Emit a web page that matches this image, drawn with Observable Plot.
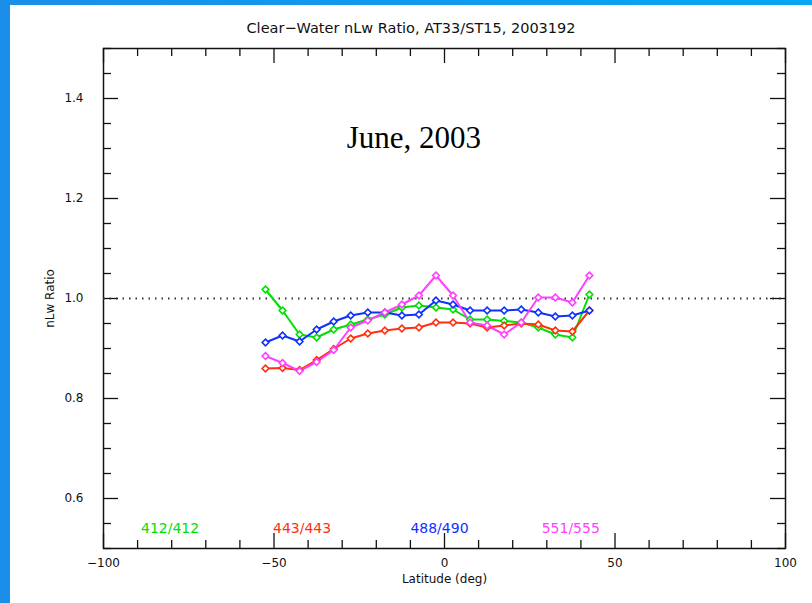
<!DOCTYPE html>
<html><head><meta charset="utf-8">
<script src="https://cdn.jsdelivr.net/npm/d3@7"></script>
<script src="https://cdn.jsdelivr.net/npm/@observablehq/plot@0.6"></script>
<style>
body{margin:0;width:812px;height:603px;background:linear-gradient(90deg,#1a8ee8,#05a6f5);overflow:hidden;font-family:"DejaVu Sans",sans-serif}
#box{position:absolute;left:10px;top:5px;width:802px;height:598px;background:#fff}
#title{position:absolute;left:0;width:802px;top:15px;text-align:center;font-size:14.5px;color:#111}
#chart{position:absolute;left:0;top:0}
</style></head><body>
<div id="box"><div id="title">Clear−Water nLw Ratio, AT33/ST15, 2003192</div><div id="chart"></div></div>
<script>
const lats = [-52.5,-47.5,-42.5,-37.5,-32.5,-27.5,-22.5,-17.5,-12.5,-7.5,-2.5,2.5,7.5,12.5,17.5,22.5,27.5,32.5,37.5,42.5];
const r412 = [1.018,0.976,0.928,0.922,0.938,0.948,0.958,0.968,0.982,0.986,0.982,0.978,0.958,0.958,0.955,0.952,0.942,0.928,0.922,1.008];
const r443 = [0.860,0.861,0.857,0.877,0.899,0.920,0.930,0.936,0.940,0.942,0.952,0.952,0.950,0.942,0.946,0.950,0.948,0.936,0.934,0.976];
const r488 = [0.912,0.926,0.914,0.938,0.954,0.966,0.972,0.972,0.966,0.968,0.996,0.988,0.976,0.976,0.976,0.978,0.972,0.964,0.966,0.976];
const r551 = [0.885,0.871,0.855,0.873,0.897,0.942,0.956,0.972,0.988,1.006,1.046,1.006,0.952,0.946,0.928,0.952,1.002,1.002,0.992,1.046];
const seriesNames = ["412/412","443/443","488/490","551/555"];
const seriesColors = ["#00e000","#ff3010","#1030ff","#ff40ff"];
const labelX = [-89,-50.3,-10,28.5];
const xMajor = [-100,-50,0,50,100];
const yMajor = [0.6,0.8,1.0,1.2,1.4];

const all = [r412,r443,r488,r551];
const data = [];
all.forEach((arr,k)=>arr.forEach((v,i)=>data.push({lat:lats[i],v,s:seriesNames[k]})));
const xDom=[-100,100], yDom=[0.5,1.5];
const xMinor = d3.range(-100,100.1,10);
const yMinor = d3.range(0.5,1.5001,0.05).map(v=>+v.toFixed(2));
const W=802,H=598,mL=93,mR=27,mT=43,mB=55;
const pxX=(xDom[1]-xDom[0])/(W-mL-mR), pxY=(yDom[1]-yDom[0])/(H-mT-mB);
const isMajX=x=>xMajor.includes(Math.round(x));
const isMajY=y=>yMajor.some(m=>Math.abs(m-y)<1e-6);
const tl=x=>(isMajX(x)?15:8);
const tly=y=>(isMajY(y)?15:8);
const plot = Plot.plot({
  width:W,height:H,marginLeft:mL,marginRight:mR,marginTop:mT,marginBottom:mB,
  style:{fontFamily:"DejaVu Sans",fontSize:"12px",color:"#111",background:"transparent"},
  x:{domain:xDom,ticks:xMajor,tickSize:0,tickFormat:d=>String(d).replace("-","−"),label:"Latitude (deg)",labelArrow:"none",labelAnchor:"center",labelOffset:34,tickPadding:10},
  y:{domain:yDom,ticks:yMajor,tickSize:0,tickFormat:d=>d.toFixed(1),label:"nLw Ratio",labelArrow:"none",labelAnchor:"center",labelOffset:58,tickPadding:20},
  color:{domain:seriesNames,range:seriesColors},
  marks:[
    Plot.frame({stroke:"#111",strokeWidth:1.5}),
    Plot.ruleX(xMinor,{x:d=>d,y1:yDom[0],y2:d=>yDom[0]+tl(d)*pxY,stroke:"#111",strokeWidth:1.3}),
    Plot.ruleX(xMinor,{x:d=>d,y1:yDom[1],y2:d=>yDom[1]-tl(d)*pxY,stroke:"#111",strokeWidth:1.3}),
    Plot.ruleY(yMinor,{y:d=>d,x1:xDom[0],x2:d=>xDom[0]+tly(d)*pxX,stroke:"#111",strokeWidth:1.3}),
    Plot.ruleY(yMinor,{y:d=>d,x1:xDom[1],x2:d=>xDom[1]-tly(d)*pxX,stroke:"#111",strokeWidth:1.3}),
    Plot.ruleY([1.0],{stroke:"#333",strokeWidth:2,strokeDasharray:"1.5,5"}),
    Plot.line(data,{x:"lat",y:"v",z:"s",stroke:"s",strokeWidth:2}),
    Plot.dot(data,{x:"lat",y:"v",stroke:"s",symbol:"diamond2",r:3,strokeWidth:1.6,fill:"white"}),
    Plot.text(seriesNames,{x:(d,i)=>labelX[i],y:0.54,text:d=>d,fill:d=>d,textAnchor:"start",fontSize:14}),
    Plot.text(["June, 2003"],{x:-9,y:1.32,text:d=>d,fontFamily:"Liberation Serif",fontSize:31,fill:"#000"})
  ]
});
document.getElementById("chart").appendChild(plot);
</script></body></html>
